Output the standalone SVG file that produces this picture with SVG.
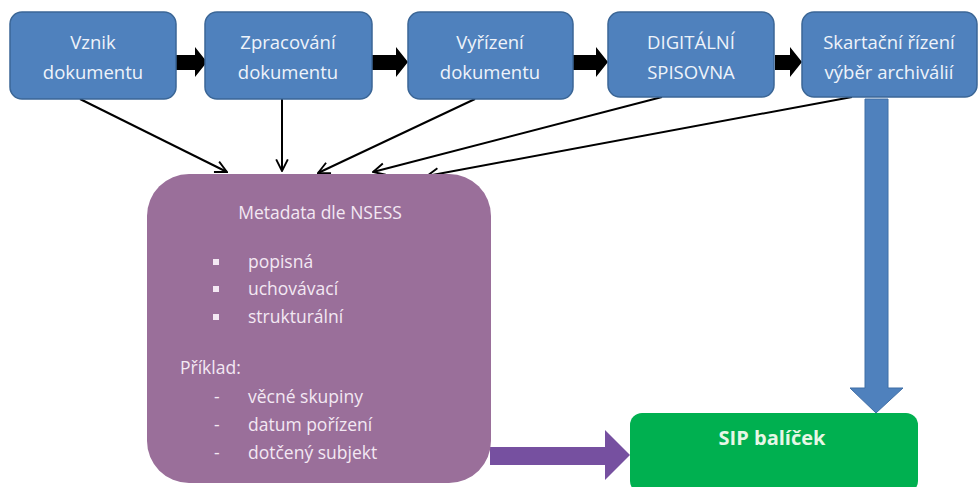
<svg xmlns="http://www.w3.org/2000/svg" width="979" height="487" viewBox="0 0 979 487">
<defs>
<style>
.box{fill:#4f81bd;stroke:#3b6696;stroke-width:1.5}
.bt{font-family:"Open Sans","Liberation Sans",sans-serif;font-size:18.5px;fill:#eef3fa;text-anchor:middle}
.mt{font-family:"Open Sans","Liberation Sans",sans-serif;font-size:17.5px;fill:#f3e8f3}
.blk{fill:#000}
.bul{fill:#f3e8f3}
</style>
<marker id="openb" viewBox="0 0 12 12" refX="11" refY="6" markerWidth="14" markerHeight="14" markerUnits="userSpaceOnUse" orient="auto">
<path d="M1,1 L11,6 L1,11" fill="none" stroke="#000" stroke-width="1.6"/>
</marker>
</defs>
<rect width="979" height="487" fill="#fff"/>

<g id="connectors">
<path class="blk" d="M176,55 L195,55 L195,47 L207,62 L195,77 L195,70 L176,70 Z"/>
<path class="blk" d="M372,55 L396,55 L396,47 L408,62 L396,77 L396,70 L372,70 Z"/>
<path class="blk" d="M573,55 L596,55 L596,47 L608,62 L596,77 L596,70 L573,70 Z"/>
<path class="blk" d="M775,55 L790,55 L790,47 L802,62 L790,77 L790,70 L775,70 Z"/>
<line x1="80" y1="99" x2="227" y2="172" stroke="#000" stroke-width="2" marker-end="url(#openb)"/>
<line x1="282" y1="99" x2="282" y2="171" stroke="#000" stroke-width="2" marker-end="url(#openb)"/>
<line x1="475" y1="99" x2="318" y2="173" stroke="#000" stroke-width="2" marker-end="url(#openb)"/>
<line x1="662" y1="97" x2="373" y2="172" stroke="#000" stroke-width="2" marker-end="url(#openb)"/>
<line x1="852" y1="97" x2="427" y2="176" stroke="#000" stroke-width="2" marker-end="url(#openb)"/>
<path d="M865,99 L888,99 L888,388 L903,388 L876,413 L850,388 L865,388 Z" fill="#4f81bd" stroke="#3f6ea6" stroke-width="1"/>
<path d="M490,447 L605,447 L605,430 L630,455 L605,480 L605,465 L490,465 Z" fill="#7650a0"/>
</g>

<g id="n1"><rect class="box" x="10" y="12" width="166" height="87" rx="12"/><text class="bt" x="93" y="49">Vznik</text><text class="bt" x="93" y="79">dokumentu</text></g>
<g id="n2"><rect class="box" x="205" y="12" width="167" height="87" rx="12"/><text class="bt" x="288" y="49">Zpracování</text><text class="bt" x="288" y="79">dokumentu</text></g>
<g id="n3"><rect class="box" x="408" y="12" width="165" height="87" rx="12"/><text class="bt" x="490" y="49">Vyřízení</text><text class="bt" x="490" y="79">dokumentu</text></g>
<g id="n4"><rect class="box" x="608" y="12" width="166" height="85" rx="12"/><text class="bt" x="691" y="49">DIGITÁLNÍ</text><text class="bt" x="691" y="79">SPISOVNA</text></g>
<g id="n5"><rect class="box" x="802" y="12" width="175" height="85" rx="12"/><text class="bt" x="889" y="49" font-size="17.5">Skartační řízení</text><text class="bt" x="889" y="79" font-size="17.5">výběr archiválií</text></g>

<g id="meta">
<rect x="147" y="174" width="344" height="309" rx="42" fill="#9a6f9a"/>
<text class="mt" x="320" y="219" text-anchor="middle">Metadata dle NSESS</text>
<rect class="bul" x="213" y="259" width="6" height="6"/>
<text class="mt" x="248" y="268">popisná</text>
<rect class="bul" x="213" y="286" width="6" height="6"/>
<text class="mt" x="248" y="295">uchovávací</text>
<rect class="bul" x="213" y="314" width="6" height="6"/>
<text class="mt" x="248" y="323">strukturální</text>
<text class="mt" x="180" y="374">Příklad:</text>
<text class="mt" x="214" y="403">-</text>
<text class="mt" x="248" y="403">věcné skupiny</text>
<text class="mt" x="214" y="431">-</text>
<text class="mt" x="248" y="431">datum pořízení</text>
<text class="mt" x="214" y="459">-</text>
<text class="mt" x="248" y="459">dotčený subjekt</text>
</g>

<g id="sip">
<rect x="630" y="413" width="288" height="80" rx="12" fill="#00b050"/>
<text x="772" y="445" text-anchor="middle" font-family="'Open Sans','Liberation Sans',sans-serif" font-size="20" font-weight="bold" fill="#e6f7e6">SIP balíček</text>
</g>
</svg>
